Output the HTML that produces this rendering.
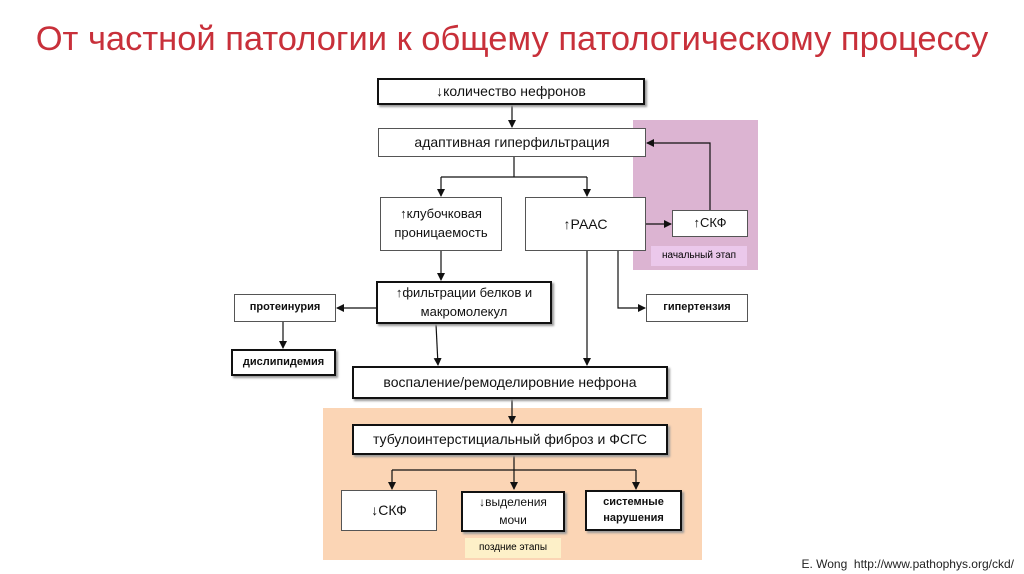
<!DOCTYPE html>
<html><head><meta charset="utf-8"><style>
body{margin:0;width:1024px;height:574px;background:#fff;position:relative;overflow:hidden;font-family:"Liberation Sans","DejaVu Sans",sans-serif;}
.b{position:absolute;box-sizing:border-box;background:#fff;border:1px solid #555;display:flex;align-items:center;justify-content:center;text-align:center;color:#111;line-height:1.45;}
.t{border:2px solid #111;box-shadow:2px 2px 2px #999;}
.bold{font-weight:bold;}
.r{position:absolute;}
</style></head><body>
<div style="position:absolute;left:0;width:1024px;top:20px;text-align:center;color:#c8303a;font-size:34.5px;font-family:'Liberation Sans Narrow','Liberation Sans',sans-serif;">От частной патологии к общему патологическому процессу</div>
<div class="r" style="left:633px;top:120px;width:125px;height:150px;background:#dcb4d2"></div>
<div class="r" style="left:651px;top:246px;width:96px;height:20px;background:#ebc8eb;font-size:10px;line-height:20px;text-align:center">начальный этап</div>
<div class="r" style="left:323px;top:408px;width:379px;height:152px;background:#fbd5b5"></div>
<div class="r" style="left:465px;top:538px;width:96px;height:20px;background:#fdf0c8;font-size:10px;line-height:20px;text-align:center">поздние этапы</div>
<svg class="r" style="left:0;top:0" width="1024" height="574">
<defs><marker id="a" markerWidth="8" markerHeight="8" refX="7" refY="4" orient="auto" markerUnits="userSpaceOnUse"><path d="M0,0L8,4L0,8z" fill="#111"/></marker></defs>
<g stroke="#111" stroke-width="1.2" fill="none">
<path d="M512,105V127" marker-end="url(#a)"/>
<path d="M514,157V177M441,177H587"/>
<path d="M441,177V196" marker-end="url(#a)"/><path d="M587,177V196" marker-end="url(#a)"/>
<path d="M441,251V280" marker-end="url(#a)"/>
<path d="M587,251V365" marker-end="url(#a)"/>
<path d="M618,251V308H645" marker-end="url(#a)"/>
<path d="M646,224H671" marker-end="url(#a)"/>
<path d="M710,210V143H647" marker-end="url(#a)"/>
<path d="M376,308H337" marker-end="url(#a)"/>
<path d="M283,322V348" marker-end="url(#a)"/>
<path d="M436,324L438,365" marker-end="url(#a)"/>
<path d="M512,399V423" marker-end="url(#a)"/>
<path d="M514,455V470M392,470H636"/>
<path d="M392,470V489" marker-end="url(#a)"/><path d="M514,470V489" marker-end="url(#a)"/><path d="M636,470V489" marker-end="url(#a)"/>
</g></svg>
<div class="b t" style="left:377px;top:78px;width:268px;height:27px;font-size:14px">↓количество нефронов</div>
<div class="b" style="left:378px;top:128px;width:268px;height:29px;font-size:14px">адаптивная гиперфильтрация</div>
<div class="b" style="left:380px;top:197px;width:122px;height:54px;font-size:13px">↑клубочковая<br>проницаемость</div>
<div class="b" style="left:525px;top:197px;width:121px;height:54px;font-size:14px">↑РААС</div>
<div class="b" style="left:672px;top:210px;width:76px;height:27px;font-size:13px">↑СКФ</div>
<div class="b t" style="left:376px;top:281px;width:176px;height:43px;font-size:13px">↑фильтрации белков и<br>макромолекул</div>
<div class="b bold" style="left:234px;top:294px;width:102px;height:28px;font-size:11px">протеинурия</div>
<div class="b bold" style="left:646px;top:294px;width:102px;height:28px;font-size:11px">гипертензия</div>
<div class="b t bold" style="left:231px;top:349px;width:105px;height:27px;font-size:11px">дислипидемия</div>
<div class="b t" style="left:352px;top:366px;width:316px;height:33px;font-size:14px">воспаление/ремоделировние нефрона</div>
<div class="b t" style="left:352px;top:424px;width:316px;height:31px;font-size:14px">тубулоинтерстициальный фиброз и ФСГС</div>
<div class="b" style="left:341px;top:490px;width:96px;height:41px;font-size:14px">↓СКФ</div>
<div class="b t" style="left:461px;top:491px;width:104px;height:41px;font-size:12px">↓выделения<br>мочи</div>
<div class="b t bold" style="left:585px;top:490px;width:97px;height:41px;font-size:11px">системные<br>нарушения</div>
<div class="r" style="right:10px;top:557px;font-size:12px;color:#222">E. Wong&nbsp; http://www.pathophys.org/ckd/</div>
</body></html>
